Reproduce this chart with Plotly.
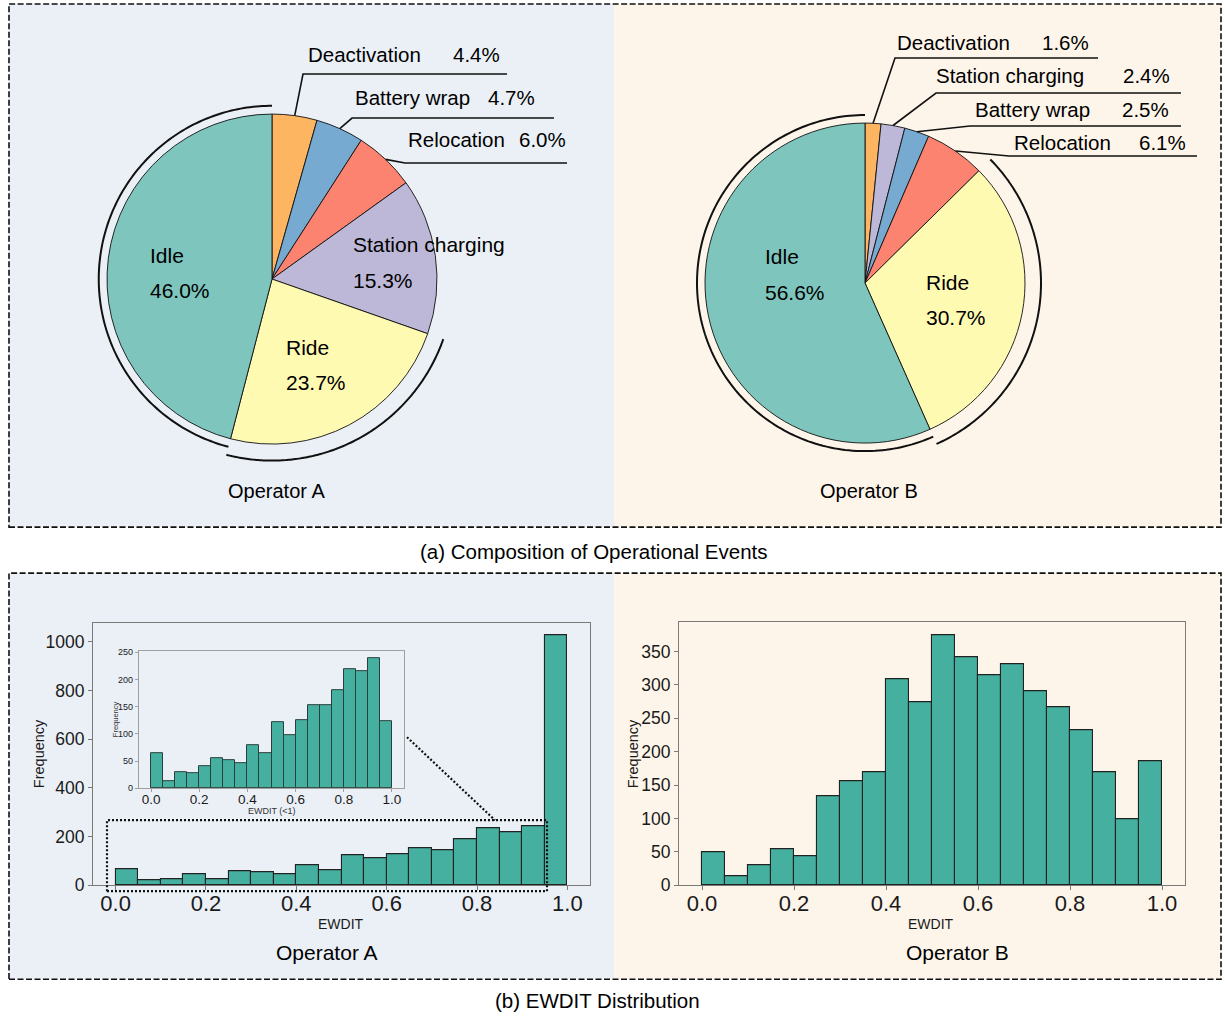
import numpy as np
import plotly.graph_objects as go

W, H = 1225, 1018
FONT = "Liberation Sans, Arial, Helvetica, sans-serif"

# ---------------- data ----------------
pie_a_labels = ["Deactivation", "Battery wrap", "Relocation", "Station charging", "Ride", "Idle"]
pie_a_values = [4.4, 4.7, 6.0, 15.3, 23.7, 46.0]

pie_b_labels = ["Deactivation", "Station charging", "Battery wrap", "Relocation", "Ride", "Idle"]
pie_b_values = [1.6, 2.4, 2.5, 6.1, 30.7, 56.6]

bin_edges = np.round(np.linspace(0.0, 1.0, 21), 2)
hist_a_counts = [64, 19, 25, 44, 23, 57, 53, 44, 82, 61, 122, 112, 127, 153, 142, 189, 234, 219, 242, 1025]
hist_a_below1_counts = [64, 13, 29, 27, 40, 56, 52, 46, 80, 64, 121, 97, 125, 152, 152, 181, 218, 215, 240, 124]
hist_b_counts = [49, 13, 30, 54, 43, 134, 156, 169, 309, 274, 375, 342, 314, 331, 290, 267, 233, 169, 99, 186]

x_ticks = [0.0, 0.2, 0.4, 0.6, 0.8, 1.0]
x_ticktext = ["0.0", "0.2", "0.4", "0.6", "0.8", "1.0"]
y_ticks_a = [0, 200, 400, 600, 800, 1000]
y_ticks_a_inset = [0, 50, 100, 150, 200, 250]
y_ticks_b = [0, 50, 100, 150, 200, 250, 300, 350]

# ---------------- styles ----------------
event_colors = {
    "Deactivation": "#fdb562",
    "Battery wrap": "#77aad1",
    "Relocation": "#fb8370",
    "Station charging": "#beb8d8",
    "Ride": "#fffab2",
    "Idle": "#7ec6bd",
}
bar_color = "#46b0a0"
bg_left = "#ebf0f7"
bg_right = "#fef5ea"

# vertical mapping of the drawing grid onto the page
Y0, SY = 5.0, 0.986


def px(x):
    return x / W


def py(y):
    return 1 - (y - Y0) / (SY * H)


# pie placement (pixel centre, radius)
pie_a_geo = dict(cx=272, cy=280, r=165)
pie_b_geo = dict(cx=865, cy=284, r=160)


def slice_angles(values):
    total = float(sum(values))
    cum = np.concatenate([[0.0], np.cumsum(values)]) / total * 360.0
    return cum[:-1], cum[1:]


def polar_px(geo, rad, deg):
    t = np.deg2rad(deg)
    return geo["cx"] + rad * np.sin(t), geo["cy"] - rad * np.cos(t)


def arc_path(geo, rad, a0, a1, n=160):
    pts = [polar_px(geo, rad, a) for a in np.linspace(a0, a1, n)]
    return "M " + " L ".join(f"{px(x):.5f},{py(y):.5f}" for x, y in pts)


fig = go.Figure()
shapes = []
annotations = []


def add_text(text, x, y, size, xanchor="center", color="#000", angle=0):
    annotations.append(dict(
        text=text, x=px(x), y=py(y), xref="paper", yref="paper",
        xanchor=xanchor, yanchor="middle", showarrow=False, textangle=angle,
        font=dict(family=FONT, size=size, color=color),
    ))


# panel backgrounds and dashed frames
for (y0, y1) in [(5, 528), (574, 980)]:
    shapes.append(dict(type="rect", xref="paper", yref="paper", x0=px(9), x1=px(614),
                       y0=py(y1), y1=py(y0), fillcolor=bg_left, line=dict(width=0), layer="below"))
    shapes.append(dict(type="rect", xref="paper", yref="paper", x0=px(614), x1=px(1221),
                       y0=py(y1), y1=py(y0), fillcolor=bg_right, line=dict(width=0), layer="below"))
    shapes.append(dict(type="rect", xref="paper", yref="paper", x0=px(9), x1=px(1221),
                       y0=py(y1), y1=py(y0), fillcolor="rgba(0,0,0,0)",
                       line=dict(color="#111", width=1.6, dash="6px,2.5px"), layer="above"))

# ---------------- pies ----------------
# inside labels: (left x, name y, pct y) in pixels
inside_a = {"Idle": (148, 256, 291), "Ride": (284, 348, 383), "Station charging": (351, 245, 281)}
inside_b = {"Idle": (763, 257, 293), "Ride": (924, 283, 318)}

# leader labels: elbow point, line end x, name left x / y, pct right x
leader_a = {
    "Deactivation": dict(elbow=(303, 75), end_x=507, name=(306, 55), pct_x=502),
    "Battery wrap": dict(elbow=(352, 119), end_x=554, name=(353, 98), pct_x=537),
    "Relocation": dict(elbow=(405, 164), end_x=567, name=(406, 140), pct_x=568),
}
leader_b = {
    "Deactivation": dict(elbow=(895, 59), end_x=1098, name=(895, 43), pct_x=1091),
    "Station charging": dict(elbow=(936, 94), end_x=1181, name=(934, 76), pct_x=1172),
    "Battery wrap": dict(elbow=(970, 127), end_x=1181, name=(973, 110), pct_x=1171),
    "Relocation": dict(elbow=(1009, 157), end_x=1197, name=(1012, 143), pct_x=1188),
}

for labels, values, geo, inside, leader, title in [
    (pie_a_labels, pie_a_values, pie_a_geo, inside_a, leader_a, "Operator A"),
    (pie_b_labels, pie_b_values, pie_b_geo, inside_b, leader_b, "Operator B"),
]:
    cx, cy, r = geo["cx"], geo["cy"], geo["r"]
    fig.add_trace(go.Pie(
        labels=labels, values=values, sort=False, direction="clockwise", rotation=0,
        marker=dict(colors=[event_colors[l] for l in labels], line=dict(color="#111", width=0.9)),
        textinfo="none", hoverinfo="label+percent", showlegend=False,
        domain=dict(x=[px(cx - r), px(cx + r)], y=[py(cy + r), py(cy - r)]),
    ))
    a0, a1 = slice_angles(values)
    idx = {l: i for i, l in enumerate(labels)}
    # brackets around the two dominant states
    i_idle, i_ride = idx["Idle"], idx["Ride"]
    shapes.append(dict(type="path", xref="paper", yref="paper",
                       path=arc_path(geo, r * 1.05, a0[i_idle], a1[i_idle]),
                       line=dict(color="#111", width=2)))
    shapes.append(dict(type="path", xref="paper", yref="paper",
                       path=arc_path(geo, r * 1.1, a0[i_ride], a1[i_ride]),
                       line=dict(color="#111", width=2)))
    for name, (lx, ny, pyy) in inside.items():
        add_text(name, lx, ny, 21, xanchor="left")
        add_text(f"{values[idx[name]]:.1f}%", lx, pyy, 21, xanchor="left")
    for name, spec in leader.items():
        i = idx[name]
        sx, sy = polar_px(geo, r, (a0[i] + a1[i]) / 2)
        ex, ey = spec["elbow"]
        shapes.append(dict(type="path", xref="paper", yref="paper",
                           path=f"M {px(sx):.5f},{py(sy):.5f} L {px(ex):.5f},{py(ey):.5f} "
                                f"L {px(spec['end_x']):.5f},{py(ey):.5f}",
                           line=dict(color="#111", width=1.6)))
        add_text(name, spec["name"][0], spec["name"][1], 20.5, xanchor="left")
        add_text(f"{values[i]:.1f}%", spec["pct_x"], spec["name"][1], 20.5, xanchor="right")
    add_text(title, cx + 4, 492, 20)

add_text("(a) Composition of Operational Events", 594, 552, 20.5)

# ---------------- histograms ----------------
centers = (bin_edges[:-1] + bin_edges[1:]) / 2
widths = np.diff(bin_edges)

fig.add_trace(go.Bar(x=centers, y=hist_a_counts, width=widths, xaxis="x", yaxis="y",
                     marker=dict(color=bar_color, line=dict(color="#222", width=1.1)),
                     showlegend=False))
fig.add_trace(go.Bar(x=centers, y=hist_b_counts, width=widths, xaxis="x2", yaxis="y2",
                     marker=dict(color=bar_color, line=dict(color="#222", width=1.1)),
                     showlegend=False))
fig.add_trace(go.Bar(x=centers, y=hist_a_below1_counts, width=widths, xaxis="x3", yaxis="y3",
                     marker=dict(color=bar_color, line=dict(color="#2a3f3b", width=1)),
                     showlegend=False))


def axis(domain, rng, tickvals, ticktext, size, anchor, linecolor="#7a7a7a", ticklen=4, standoff=0):
    return dict(domain=domain, range=rng, tickvals=tickvals, ticktext=ticktext,
                tickfont=dict(family=FONT, size=size, color="#1a1a1a"),
                showline=True, mirror=True, linecolor=linecolor, linewidth=1.2,
                ticks="outside", ticklen=ticklen, tickcolor=linecolor, tickwidth=1,
                ticklabelstandoff=standoff,
                showgrid=False, zeroline=False, anchor=anchor, fixedrange=True)


fig.update_layout(
    xaxis=axis([px(93), px(590)], [-0.05, 1.05], x_ticks, x_ticktext, 22, "y", standoff=-6),
    yaxis=axis([py(886), py(624)], [0, 1076], y_ticks_a, [str(v) for v in y_ticks_a], 17.5, "x"),
    xaxis2=axis([px(679), px(1185)], [-0.05, 1.05], x_ticks, x_ticktext, 22, "y2", standoff=-6),
    yaxis2=axis([py(886), py(623)], [0, 394], y_ticks_b, [str(v) for v in y_ticks_b], 17.5, "x2"),
    xaxis3=axis([px(139), px(404)], [-0.05, 1.05], x_ticks, x_ticktext, 13.5, "y3",
                linecolor="#a0a0a0", ticklen=3, standoff=-4),
    yaxis3=axis([py(789), py(652)], [0, 252], y_ticks_a_inset, [str(v) for v in y_ticks_a_inset], 9, "x3",
                linecolor="#a0a0a0", ticklen=3),
)

# axis titles
add_text("Frequency", 39, 755, 14.5, angle=-90, color="#1a1a1a")
add_text("EWDIT", 341, 925, 14, color="#1a1a1a")
add_text("Frequency", 633, 755, 14.5, angle=-90, color="#1a1a1a")
add_text("EWDIT", 931, 925, 14, color="#1a1a1a")
add_text("Frequency", 115, 720, 7.5, angle=-90, color="#333")
add_text("EWDIT (<1)", 272, 812, 9, color="#333")

# zoom-window marker linking the main histogram to the inset
dotted = dict(color="#111", width=2.2, dash="2px,2px")
shapes.append(dict(type="rect", xref="paper", yref="paper", x0=px(107), x1=px(547),
                   y0=py(892), y1=py(821), line=dotted, fillcolor="rgba(0,0,0,0)"))
shapes.append(dict(type="line", xref="paper", yref="paper", x0=px(407), y0=py(738),
                   x1=px(495), y1=py(821), line=dotted))

add_text("Operator A", 327, 953, 21)
add_text("Operator B", 957, 953, 21)
add_text("(b) EWDIT Distribution", 597, 1001, 20.5)

fig.update_layout(
    width=W, height=H, autosize=False,
    margin=dict(l=0, r=0, t=0, b=0),
    paper_bgcolor="white", plot_bgcolor="rgba(0,0,0,0)",
    bargap=0, barmode="overlay",
    shapes=shapes, annotations=annotations,
    font=dict(family=FONT),
)

fig.write_html("out.html")
